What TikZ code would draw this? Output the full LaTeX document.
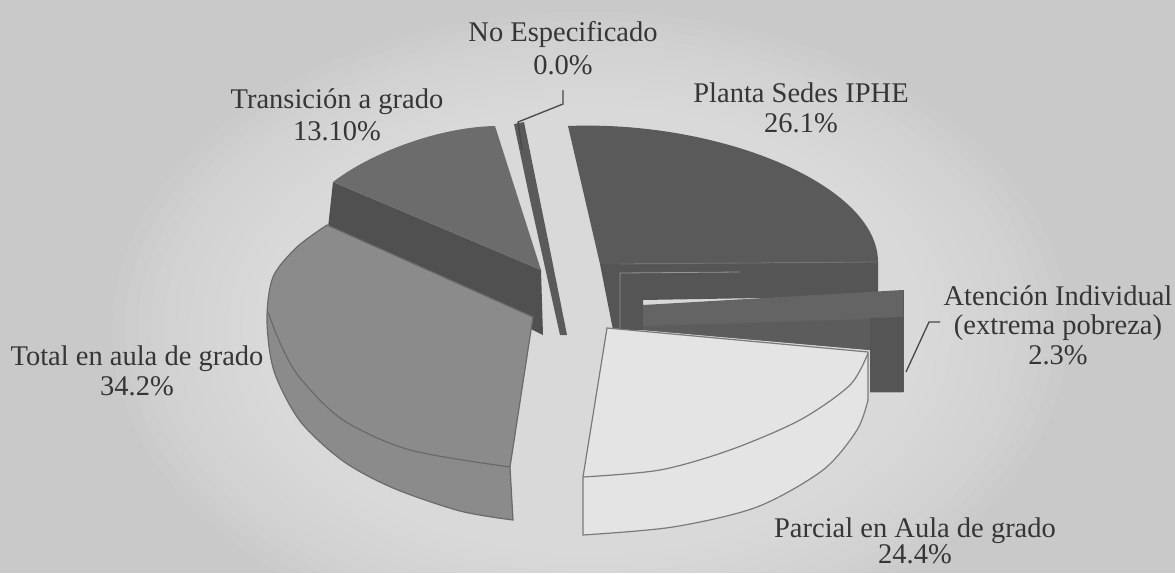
\documentclass[tikz,border=0pt]{standalone}
\usepackage{fontspec}
\setmainfont{Liberation Serif}
\definecolor{bg}{HTML}{C9C9C9}
\definecolor{txt}{HTML}{363636}
\definecolor{trTop}{HTML}{6C6C6C}
\definecolor{trFront}{HTML}{505050}
\definecolor{neCol}{HTML}{5A5A5A}
\definecolor{plTop}{HTML}{5A5A5A}
\definecolor{plFront}{HTML}{555555}
\definecolor{atTop}{HTML}{646464}
\definecolor{atFront}{HTML}{5C5C5C}
\definecolor{atSide}{HTML}{555555}
\definecolor{toFill}{HTML}{8B8B8B}
\definecolor{paFill}{HTML}{E4E4E4}
\definecolor{toEdge}{HTML}{6A6A6A}
\definecolor{paEdge}{HTML}{7A7A7A}
\definecolor{leader}{HTML}{474747}
\begin{document}
\begin{tikzpicture}[x=1pt,y=-1pt,
  lbl/.style={font=\fontsize{28.5}{29.5}\selectfont, text=txt, align=center, inner sep=0pt},
  leaderline/.style={draw=leader, line width=1.3pt},
  sliceedge/.style={line width=1.2pt}]
\useasboundingbox (0,0) rectangle (1175,573);
\fill[bg] (0,0) rectangle (1175,573);
% soft glow around the pie
\foreach \i in {0,...,11}{
  \pgfmathsetmacro{\rx}{335+13*\i}
  \pgfmathsetmacro{\ry}{225+8.5*\i}
  \fill[white, opacity=0.045] (590,330) ellipse [x radius=\rx pt, y radius=\ry pt];
}

% Transicion a grado
\fill[trFront] (333,182) -- (541,270) -- (543,335) -- (328,228) -- cycle;
\fill[trTop] (333,182) .. controls (372,152) and (440,127) .. (495,126) -- (541,270) -- cycle;

% No Especificado sliver
\fill[neCol] (514,124) -- (524,122) -- (548,240) -- (567,335) -- (560,335) -- (530,200) -- cycle;

% Planta Sedes IPHE
\fill[plFront] (600,264) -- (878,262) -- (878,296) -- (643,300) -- (643,330) -- (613,330) -- cycle;
\fill[plTop] (568,126) .. controls (720,120) and (878,185) .. (878,262) -- (600,264) -- cycle;
\draw[draw=black!55, line width=0.8pt] (620,264) -- (878,262);
\draw[draw=black!42, line width=0.8pt] (620,330) -- (620,273) -- (740,272);

% Atencion Individual
\fill[atTop] (643,305) -- (903,290) -- (903,392) -- (870,392) -- (870,350) -- (643,330) -- cycle;
\fill[atFront] (643,326) -- (903,318) -- (903,392) -- (870,392) -- (870,350) -- (643,330) -- cycle;
\fill[atSide] (870,318) -- (903,317) -- (903,392) -- (870,392) -- cycle;
\draw[draw=black!65, line width=0.8pt] (903,290) -- (903,392);

% Total en aula de grado
\filldraw[fill=toFill, draw=toEdge, sliceedge] (327,225) -- (533,317) -- (510,467)
  -- plot[smooth] coordinates {(513,520) (460,511) (393,488) (343,461) (300,421) (274,371) (267,320) (273,277) (297,247) (327,225)} -- cycle;
\draw[draw=toEdge, sliceedge] plot[smooth] coordinates {(268,312) (281,345) (300,378) (343,420) (410,450) (510,467)};

% Parcial en Aula de grado
\filldraw[fill=paFill, draw=paEdge, sliceedge] (607,328) -- (868,352)
  -- plot[smooth] coordinates {(868,400) (857,430) (823,470) (757,507) (673,527) (583,535)} -- (583,477) -- cycle;
\draw[draw=paEdge, sliceedge] plot[smooth] coordinates {(583,477) (660,470) (730,450) (800,420) (850,385) (868,353)};

% labels
\node[lbl] (ne) at (563,48) {No Especificado\\[3pt]0.0\%};
\node[lbl] (tr) at (337,115) {Transición a grado\\[3pt]13.10\%};
\node[lbl] (pl) at (801,108) {Planta Sedes IPHE\\26.1\%};
\node[lbl] (at) at (1058,325) {Atención Individual\\(extrema pobreza)\\2.3\%};
\node[lbl] (to) at (137,371) {Total en aula de grado\\34.2\%};
\node[lbl] (pa) at (915,541) {Parcial en Aula de grado\\[-3pt]24.4\%};

% leader lines
\coordinate (neA) at (563,90);
\coordinate (neB) at (563,104);
\coordinate (neC) at (518,122);
\coordinate (neD) at (522,150);
\draw[leaderline] (neA) -- (neB) -- (neC) -- (neD);
\coordinate (atA) at (940,322);
\coordinate (atB) at (929,322);
\coordinate (atC) at (906,372);
\draw[leaderline] (atA) -- (atB) -- (atC);
\end{tikzpicture}
\end{document}
